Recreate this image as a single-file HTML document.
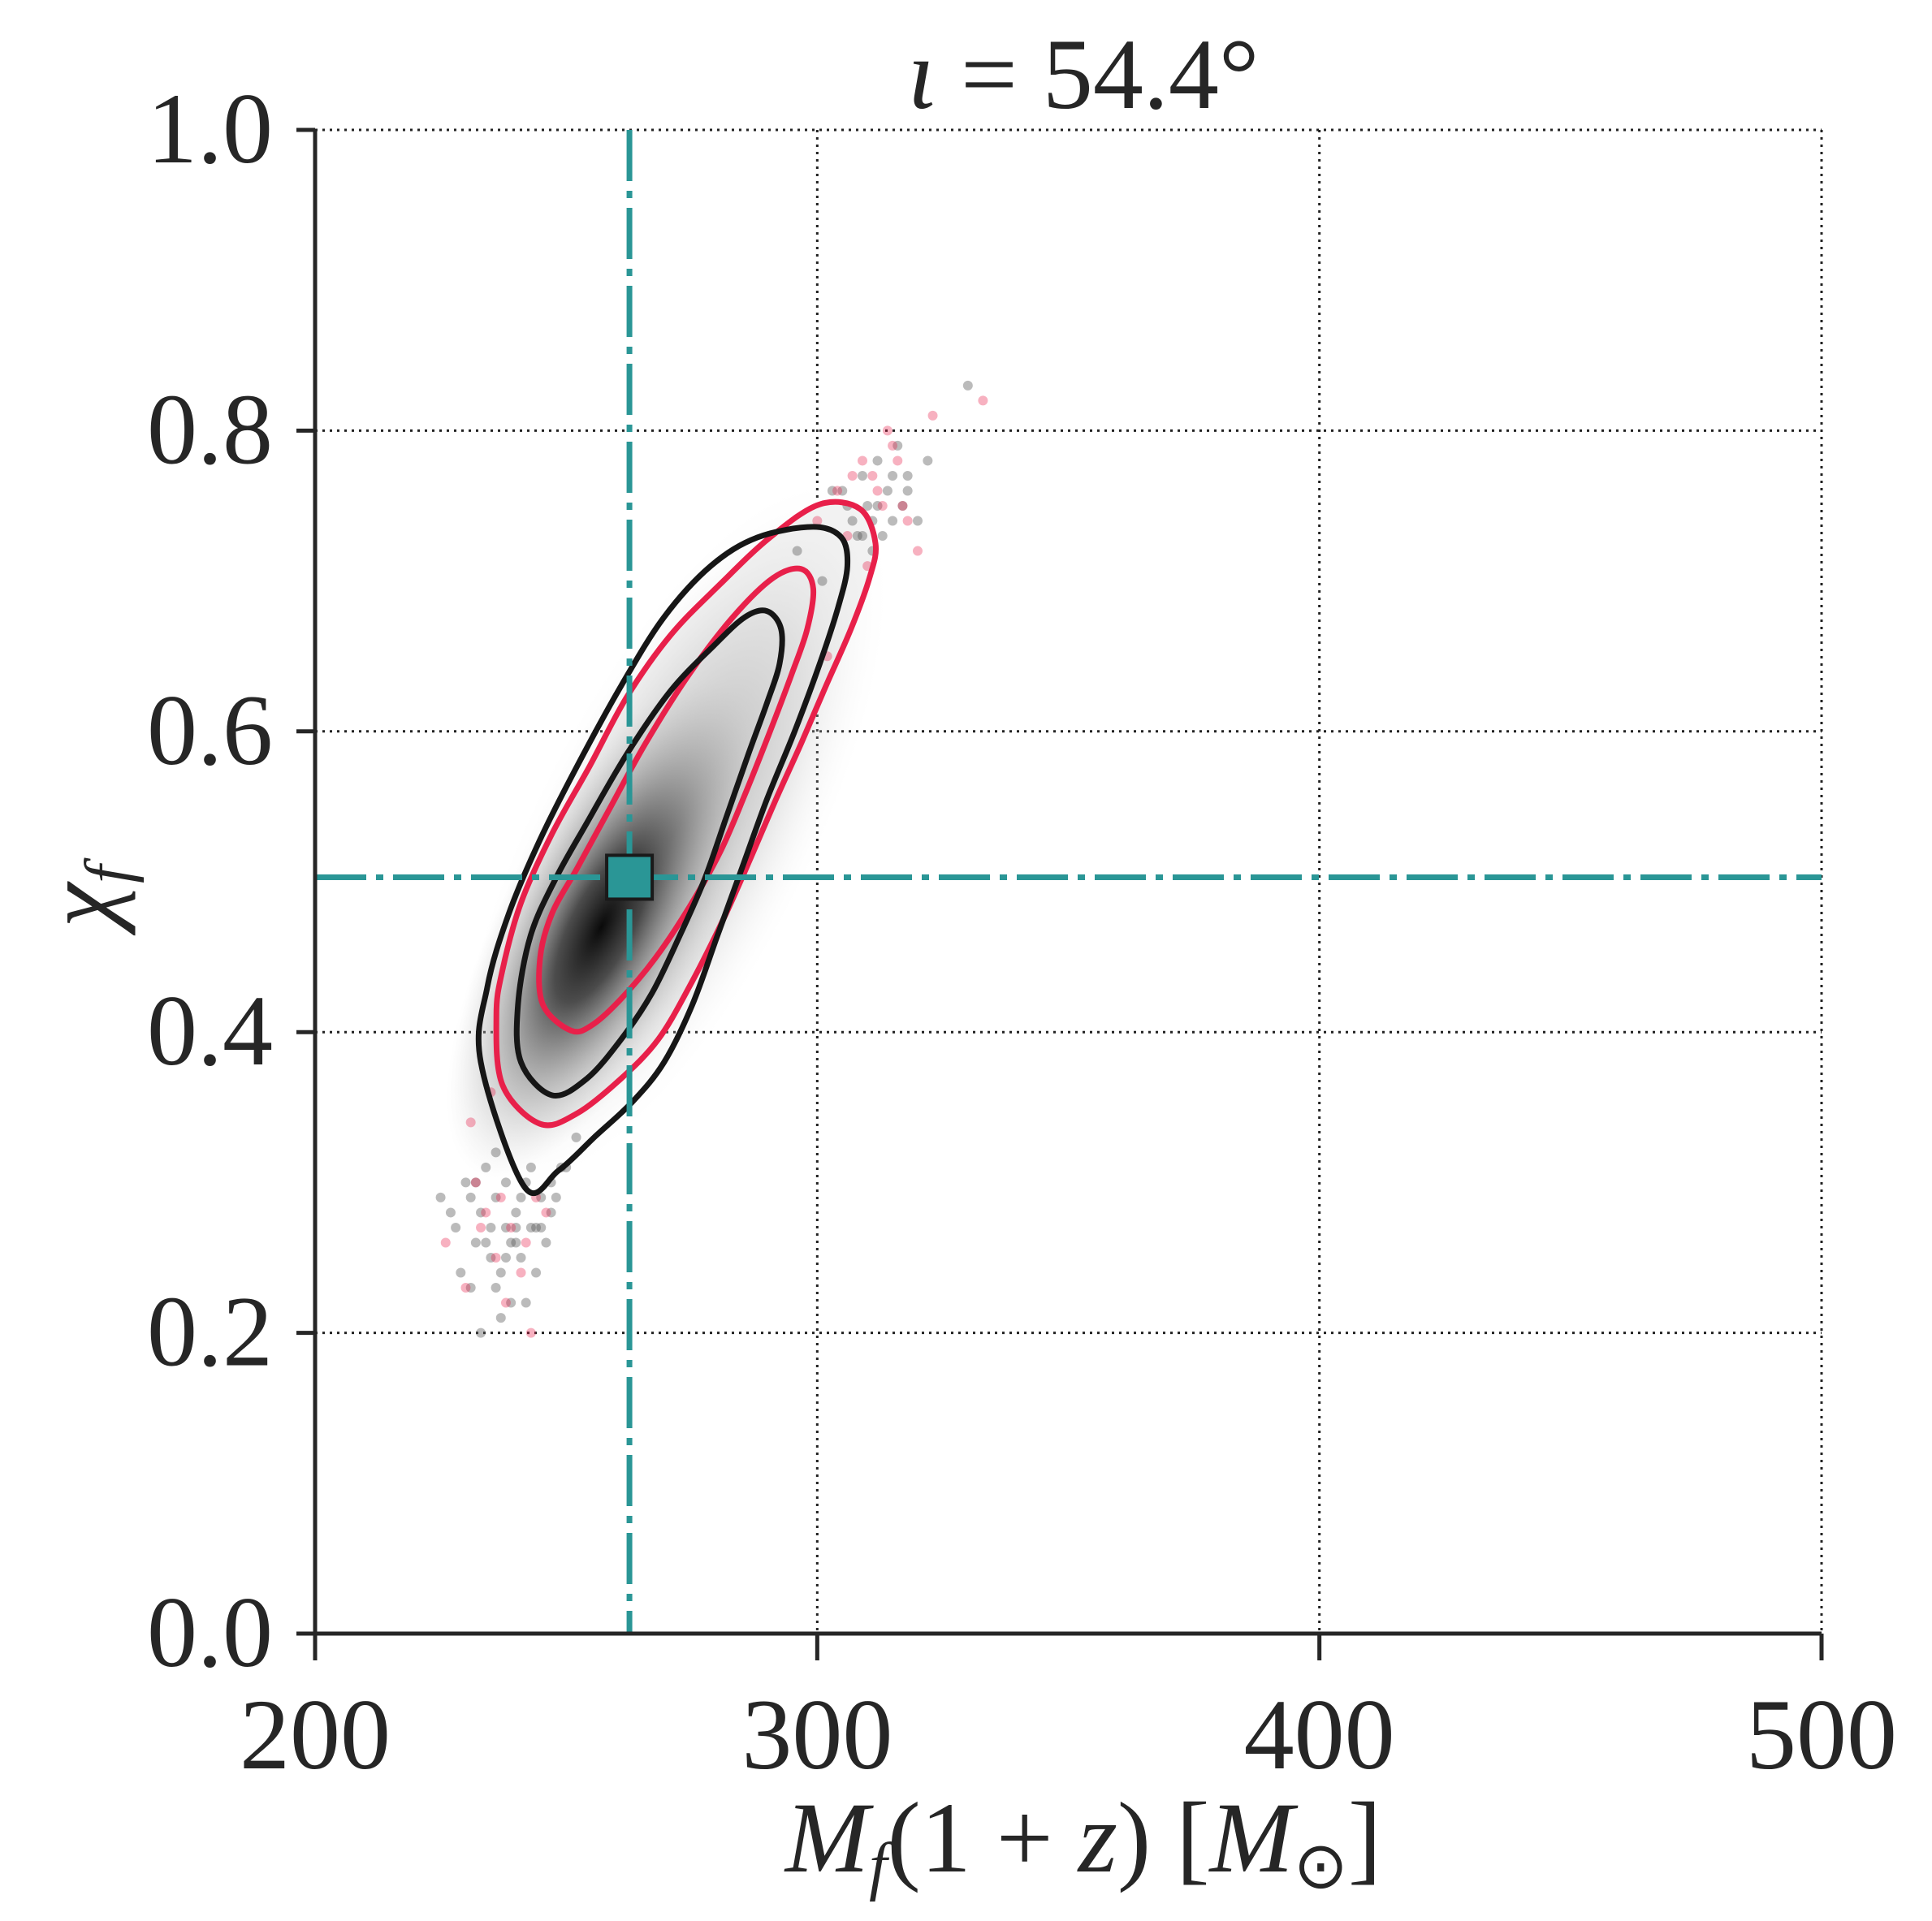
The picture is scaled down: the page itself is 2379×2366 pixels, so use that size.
<!DOCTYPE html>
<html><head><meta charset="utf-8"><style>
html,body{margin:0;padding:0;background:#fff}
svg{display:block}
text{font-family:"Liberation Serif","Times New Roman","Nimbus Roman",Times,serif;fill:#262626}
</style></head><body>
<svg id="chart" width="2379" height="2366" viewBox="0 0 2379 2366" xmlns="http://www.w3.org/2000/svg">
<defs>
<radialGradient id="dens" cx="0.5" cy="0.5" r="0.5">
<stop offset="0" stop-color="#0a0a0a" stop-opacity="1"/>
<stop offset="0.3" stop-color="#333" stop-opacity="0.85"/>
<stop offset="0.65" stop-color="#888" stop-opacity="0.45"/>
<stop offset="1" stop-color="#ccc" stop-opacity="0"/>
</radialGradient>
<radialGradient id="densWide" cx="0.5" cy="0.5" r="0.5">
<stop offset="0" stop-color="#777" stop-opacity="0.6"/>
<stop offset="0.6" stop-color="#bbb" stop-opacity="0.35"/>
<stop offset="1" stop-color="#eee" stop-opacity="0"/>
</radialGradient>
<clipPath id="plotclip"><rect x="388" y="150" width="1860" height="1865"/></clipPath>
</defs>
<g id="grid"></g>
<g id="density" clip-path="url(#plotclip)"></g>
<g id="scatter"></g>
<g id="contours"></g>
<g id="truth"></g>
<g id="axes"></g>
<text x="1334" y="133" font-size="124" text-anchor="middle"><tspan font-style="italic">ι</tspan> = 54.4°</text>
<text x="1334" y="2305" font-size="124" text-anchor="middle"><tspan font-style="italic">M</tspan><tspan font-style="italic" font-size="80" dy="20">f</tspan><tspan dy="-20">(1 + </tspan><tspan font-style="italic">z</tspan>) [<tspan font-style="italic">M</tspan><tspan font-size="80" dy="20">⊙</tspan><tspan dy="-20">]</tspan></text>
<text transform="translate(140,1104) rotate(-90)" font-size="124" text-anchor="middle"><tspan font-style="italic">χ</tspan><tspan font-style="italic" font-size="80" dy="20">f</tspan></text>
</svg>
<script>
const xTicks=[200,300,400,500];
const yTicks=[0.0,0.2,0.4,0.6,0.8,1.0];
const truthMass=262.6;
const truthChi=0.503;
const densityCore=[257,0.47];
const densityWide=[271,0.53];
const outerBlackM=[241.7,233.0,234.3,238.6,244.8,252.2,260.9,269.5,278.8,288.1,299.2,304.8,306.0,304.2,300.5,295.5,290.0,285.0,280.1,275.1,269.5,263.3,255.9,248.5];
const outerBlackC=[0.297,0.380,0.430,0.479,0.528,0.577,0.630,0.676,0.710,0.729,0.736,0.729,0.710,0.683,0.645,0.600,0.555,0.509,0.464,0.418,0.380,0.354,0.331,0.308];
const outerRedM=[244.8,237.3,236.1,237.3,241.0,247.2,254.7,262.1,270.8,280.7,290.6,300.5,308.5,311.6,310.4,306.7,301.7,296.8,291.8,286.9,281.3,274.5,268.3,260.9,252.2];
const outerRedC=[0.339,0.365,0.411,0.441,0.486,0.532,0.577,0.623,0.664,0.698,0.729,0.751,0.748,0.725,0.702,0.668,0.630,0.592,0.555,0.517,0.475,0.430,0.395,0.369,0.346];
const innerBlackM=[247.2,241.0,240.4,242.9,247.9,254.1,262.1,270.8,279.4,285.6,290.0,292.8,292.5,290.0,286.3,281.9,277.6,272.6,267.1,260.9,254.1];
const innerBlackC=[0.358,0.380,0.418,0.464,0.502,0.539,0.585,0.627,0.657,0.676,0.680,0.668,0.645,0.619,0.585,0.543,0.502,0.464,0.426,0.395,0.369];
const innerRedM=[251.0,245.4,244.8,247.2,252.2,258.4,265.8,274.5,283.2,291.2,296.8,299.2,298.0,294.9,290.6,285.6,280.7,274.5,267.7,260.9,255.3];
const innerRedC=[0.401,0.418,0.449,0.479,0.509,0.547,0.592,0.638,0.676,0.702,0.708,0.695,0.668,0.638,0.600,0.558,0.520,0.483,0.449,0.422,0.405];
const grayM=[225,228,230,232,233,235,236,237,238,239,240,241,242,243,244,245,246,247,229,234,236,238,240,242,231,233,237,243,248,250,305,307,309,310,312,313,314,315,316,317,318,311,308,306,303,320,322,330,301,296,227,231,235,239,241,244,236,238,240,234,232,245,247,249,252,312,315,318,309,311];
const grayC=[0.29,0.27,0.3,0.26,0.28,0.25,0.29,0.24,0.27,0.22,0.28,0.25,0.3,0.27,0.24,0.29,0.26,0.28,0.24,0.31,0.32,0.3,0.26,0.22,0.23,0.2,0.21,0.31,0.29,0.31,0.76,0.74,0.77,0.75,0.78,0.73,0.76,0.74,0.79,0.75,0.77,0.72,0.73,0.75,0.76,0.74,0.78,0.83,0.7,0.72,0.28,0.29,0.27,0.26,0.29,0.27,0.23,0.25,0.27,0.26,0.3,0.27,0.3,0.31,0.33,0.75,0.77,0.76,0.73,0.74];
const pinkM=[226,230,232,234,236,239,241,244,246,231,235,238,243,300,304,306,309,311,313,315,318,320,323,310,314,302,316,333,233,237,242,312,317,307];
const pinkC=[0.26,0.23,0.3,0.28,0.25,0.27,0.24,0.29,0.28,0.34,0.36,0.22,0.2,0.74,0.76,0.73,0.78,0.77,0.75,0.79,0.74,0.72,0.81,0.71,0.8,0.65,0.78,0.82,0.27,0.29,0.26,0.76,0.75,0.77];

const X0=388,X1=2243,Y0=2012,Y1=160;
const sx=v=>X0+(v-200)/300*(X1-X0);
const sy=v=>Y0-(v-0)/1*(Y0-Y1);
const NS='http://www.w3.org/2000/svg';
function mk(tag,parent,attrs){const e=document.createElementNS(NS,tag);for(const k in attrs)e.setAttribute(k,attrs[k]);parent.appendChild(e);return e;}
function closedPath(ms,cs){const p=ms.map((m,i)=>[sx(m),sy(cs[i])]);const n=p.length;let d=`M${p[0][0]},${p[0][1]}`;
for(let i=0;i<n;i++){const p0=p[(i-1+n)%n],p1=p[i],p2=p[(i+1)%n],p3=p[(i+2)%n];
d+=`C${p1[0]+(p2[0]-p0[0])/6},${p1[1]+(p2[1]-p0[1])/6} ${p2[0]-(p3[0]-p1[0])/6},${p2[1]-(p3[1]-p1[1])/6} ${p2[0]},${p2[1]}`;}
return d+'Z';}
const grid=document.getElementById('grid');
xTicks.slice(1).forEach(t=>{const l=mk('line',grid,{x1:sx(t),x2:sx(t),y1:Y1,y2:Y0,stroke:'#222','stroke-width':3,'stroke-dasharray':'3 6'});

});
yTicks.slice(1).forEach(t=>{const l=mk('line',grid,{x1:X0,x2:X1,y1:sy(t),y2:sy(t),stroke:'#222','stroke-width':3,'stroke-dasharray':'3 6'});

});
// density
const dens=document.getElementById('density');
const bg=mk('path',dens,{d:closedPath(outerRedM,outerRedC),fill:'#f3f3f3'});


const wx=sx(densityWide[0]),wy=sy(densityWide[1]);
const ew=mk('ellipse',dens,{cx:wx,cy:wy,rx:480,ry:170,fill:'url(#densWide)',transform:`rotate(-63 ${wx} ${wy})`});


const cx=sx(densityCore[0]),cy=sy(densityCore[1]);
const el=mk('ellipse',dens,{cx:cx,cy:cy,rx:340,ry:125,fill:'url(#dens)',transform:`rotate(-63 ${cx} ${cy})`});


// scatter
const sc=document.getElementById('scatter');
grayM.forEach((m,i)=>{const c=mk('circle',sc,{cx:sx(m),cy:sy(grayC[i]),r:6,fill:'#555','fill-opacity':0.4});

});
pinkM.forEach((m,i)=>{const c=mk('circle',sc,{cx:sx(m),cy:sy(pinkC[i]),r:6,fill:'#e8204a','fill-opacity':0.35});

});
// contours
const cg=document.getElementById('contours');
[[outerRedM,outerRedC,'#e8204a','contour-90-red'],[outerBlackM,outerBlackC,'#161616','contour-90-black'],[innerRedM,innerRedC,'#e8204a','contour-50-red'],[innerBlackM,innerBlackC,'#161616','contour-50-black']].forEach(a=>{
const p=mk('path',cg,{d:closedPath(a[0],a[1]),fill:'none',stroke:a[2],'stroke-width':7,'stroke-linejoin':'round'});

});
// truth
const tg=document.getElementById('truth');
const vl=mk('line',tg,{x1:sx(truthMass),x2:sx(truthMass),y1:Y1,y2:Y0,stroke:'#2a9696','stroke-width':7,'stroke-dasharray':'63 12 9 12'});


const hl=mk('line',tg,{x1:X0,x2:X1,y1:sy(truthChi),y2:sy(truthChi),stroke:'#2a9696','stroke-width':7,'stroke-dasharray':'63 12 9 12'});


const sq=mk('rect',tg,{x:sx(truthMass)-28,y:sy(truthChi)-27,width:56,height:54,fill:'#2a9696',stroke:'#1a1a1a','stroke-width':4});


// axes
const ax=document.getElementById('axes');
mk('line',ax,{x1:X0,x2:X0,y1:Y1,y2:Y0+2,stroke:'#262626','stroke-width':5});
mk('line',ax,{x1:X0-2,x2:X1,y1:Y0,y2:Y0,stroke:'#262626','stroke-width':5});
xTicks.forEach(t=>{mk('line',ax,{x1:sx(t),x2:sx(t),y1:Y0,y2:Y0+33,stroke:'#262626','stroke-width':5});
const tx=mk('text',ax,{x:sx(t),y:2178,'font-size':124,'text-anchor':'middle'});tx.textContent=String(t);

});
yTicks.forEach(t=>{mk('line',ax,{x1:X0-23,x2:X0,y1:sy(t),y2:sy(t),stroke:'#262626','stroke-width':5});
const tx=mk('text',ax,{x:336,y:sy(t)+40,'font-size':124,'text-anchor':'end'});tx.textContent=t.toFixed(1);

});
</script>
</body></html>
